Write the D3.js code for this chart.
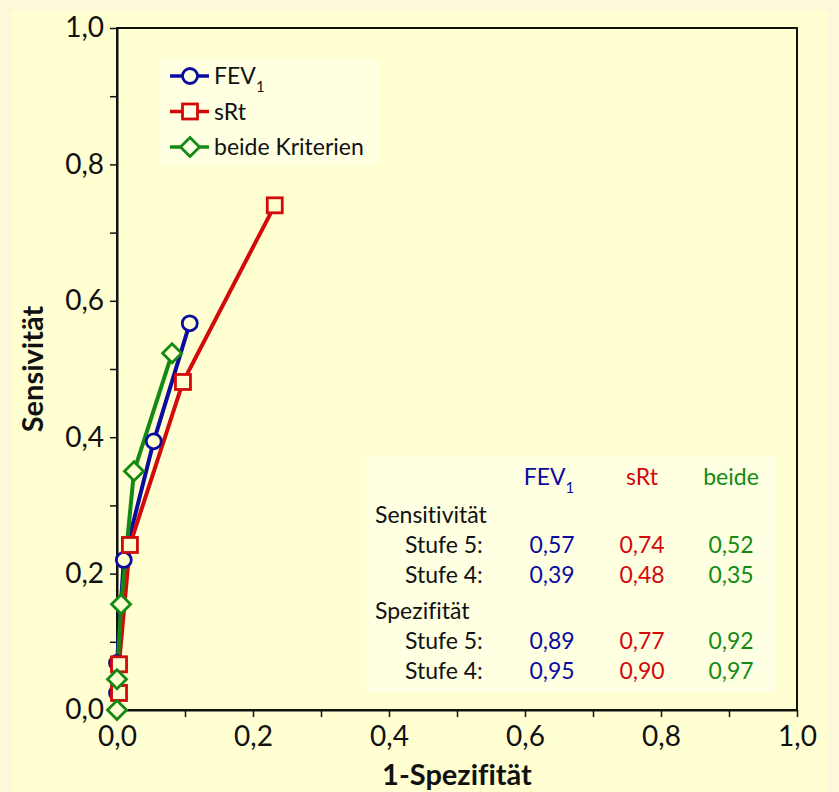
<!DOCTYPE html>
<html>
<head>
<meta charset="utf-8">
<script src="https://cdn.jsdelivr.net/npm/d3@7"></script>
<style>
  body { margin: 0; background: #fdf8da; }
  svg { display: block; font-family: Lato, "Open Sans", sans-serif; font-variant-ligatures: none; }
</style>
</head>
<body>
<div id="chart"></div>
<script>
// 1-Spezifität (x) and Sensitivität (y) for each criterion
var fevX = [0, 0, 0.010, 0.054, 0.107];
var fevY = [0.025, 0.069, 0.220, 0.394, 0.567];
var srtX = [0.003, 0.003, 0.019, 0.097, 0.232];
var srtY = [0.025, 0.067, 0.242, 0.481, 0.740];
var beideX = [0, 0, 0.006, 0.025, 0.081];
var beideY = [0, 0.045, 0.155, 0.350, 0.523];

var seriesNames = ['FEV', 'sRt', 'beide Kriterien'];
var seriesColors = ['#0c0ca0', '#d20a0a', '#148a14'];
var seriesShapes = ['circle', 'square', 'diamond'];

var axisTicks = [0, 0.1, 0.2, 0.3, 0.4, 0.5, 0.6, 0.7, 0.8, 0.9, 1.0];
var axisLabels = [0, 0.2, 0.4, 0.6, 0.8, 1.0];

// table in the lower right
var tableHeads = ['FEV', 'sRt', 'beide'];
var tableRowLabels = ['Stufe 5:', 'Stufe 4:'];
var sensFev = ['0,57', '0,39'];
var sensSrt = ['0,74', '0,48'];
var sensBeide = ['0,52', '0,35'];
var spezFev = ['0,89', '0,95'];
var spezSrt = ['0,77', '0,90'];
var spezBeide = ['0,92', '0,97'];

var width = 839,
    height = 792,
    margin = {left: 117, right: 42, top: 28, bottom: 82};

var plotBg = '#ffffd2';

var svg = d3.select('#chart')
  .append('svg')
  .attr('width', width)
  .attr('height', height);

svg.append('rect')
  .attr('x', 0).attr('y', 0)
  .attr('width', width).attr('height', height)
  .attr('fill', '#fdf8da');

svg.append('rect')
  .attr('x', 12).attr('y', 11)
  .attr('width', 816).attr('height', height - 11)
  .attr('fill', plotBg);

var x = d3.scaleLinear().domain([0, 1]).range([margin.left, width - margin.right]);
var y = d3.scaleLinear().domain([0, 1]).range([height - margin.bottom, margin.top]);

var comma = function (v) { return d3.format('.1f')(v).replace('.', ','); };
var labelFmt = function (v) {
  return axisLabels.some(function (a) { return Math.abs(a - v) < 1e-9; }) ? comma(v) : '';
};

// frame
svg.append('rect')
  .attr('x', x(0)).attr('y', y(1))
  .attr('width', x(1) - x(0)).attr('height', y(0) - y(1))
  .attr('fill', 'none')
  .attr('stroke', '#111')
  .attr('stroke-width', 2);

var xAxis = svg.append('g')
  .attr('transform', 'translate(0,' + y(0) + ')')
  .call(d3.axisBottom(x).tickValues(axisTicks).tickFormat(labelFmt)
    .tickSize(7).tickSizeOuter(0).tickPadding(9));

var yAxis = svg.append('g')
  .attr('transform', 'translate(' + x(0) + ',0)')
  .call(d3.axisLeft(y).tickValues(axisTicks).tickFormat(labelFmt)
    .tickSize(7).tickSizeOuter(0).tickPadding(6));

[xAxis, yAxis].forEach(function (a) {
  a.select('.domain').attr('stroke', '#111').attr('stroke-width', 2);
  a.selectAll('.tick line').attr('stroke', '#111').attr('stroke-width', 1.5);
  a.selectAll('.tick text')
    .attr('fill', '#111')
    .style('font-size', '28px')
    .style('font-family', 'Lato, sans-serif');
});

svg.append('text')
  .attr('x', (x(0) + x(1)) / 2)
  .attr('y', 785)
  .attr('text-anchor', 'middle')
  .attr('fill', '#111')
  .style('font-size', '29px')
  .style('font-weight', 'bold')
  .text('1-Spezifität');

svg.append('text')
  .attr('transform', 'translate(43,' + ((y(0) + y(1)) / 2) + ') rotate(-90)')
  .attr('text-anchor', 'middle')
  .attr('fill', '#111')
  .style('font-size', '29px')
  .style('font-weight', 'bold')
  .text('Sensivität');

// markers
function marker(sel, shape, color) {
  if (shape === 'circle') {
    sel.append('circle').attr('r', 7.5);
  } else if (shape === 'square') {
    sel.append('rect').attr('x', -7.5).attr('y', -7.5).attr('width', 15).attr('height', 15);
  } else {
    sel.append('path').attr('d', 'M0,-9.5L9.5,0L0,9.5L-9.5,0Z');
  }
  sel.selectAll('circle,rect,path')
    .attr('fill', plotBg)
    .attr('stroke', color)
    .attr('stroke-width', 2.8);
}

var series = [
  {xs: fevX, ys: fevY},
  {xs: srtX, ys: srtY},
  {xs: beideX, ys: beideY}
];

var line = d3.line()
  .x(function (d) { return x(d[0]); })
  .y(function (d) { return y(d[1]); });

series.forEach(function (s, i) {
  var pts = s.xs.map(function (v, j) { return [v, s.ys[j]]; });
  svg.append('path')
    .datum(pts)
    .attr('d', line)
    .attr('fill', 'none')
    .attr('stroke', seriesColors[i])
    .attr('stroke-width', 4);
});

series.forEach(function (s, i) {
  var pts = s.xs.map(function (v, j) { return [v, s.ys[j]]; });
  svg.selectAll('.m' + i).data(pts)
    .enter().append('g')
    .attr('class', 'm' + i)
    .attr('transform', function (d) { return 'translate(' + x(d[0]) + ',' + y(d[1]) + ')'; })
    .each(function () { marker(d3.select(this), seriesShapes[i], seriesColors[i]); });
});

// legend
var legend = svg.append('g');
legend.append('rect')
  .attr('x', 160).attr('y', 59)
  .attr('width', 220).attr('height', 106)
  .attr('fill', '#ffffe2');

seriesNames.forEach(function (name, i) {
  var ly = 76 + i * 35.5;
  var g = legend.append('g');
  g.append('line')
    .attr('x1', 170).attr('x2', 209)
    .attr('y1', ly).attr('y2', ly)
    .attr('stroke', seriesColors[i])
    .attr('stroke-width', 3.5);
  var m = g.append('g').attr('transform', 'translate(190,' + ly + ')');
  marker(m, seriesShapes[i], seriesColors[i]);
  m.selectAll('circle,rect,path').attr('fill', '#ffffe2');
  var t = g.append('text')
    .attr('x', 214).attr('y', ly + 8)
    .attr('fill', '#111')
    .style('font-size', '23px')
    .text(name);
  if (i === 0) {
    t.append('tspan').attr('dy', 8).style('font-size', '15px').text('1');
  }
});

// table
var table = svg.append('g');
table.append('rect')
  .attr('x', 367).attr('y', 456)
  .attr('width', 408).attr('height', 236)
  .attr('fill', '#ffffe2');

var colX = [552, 642, 731];
var fs = '23px';

tableHeads.forEach(function (h, i) {
  var t = table.append('text')
    .attr('x', colX[i] + (i === 0 ? -3 : 0)).attr('y', 485)
    .attr('text-anchor', 'middle')
    .attr('fill', seriesColors[i])
    .style('font-size', fs)
    .text(h);
  if (i === 0) {
    t.append('tspan').attr('dy', 8).style('font-size', '15px').text('1');
  }
});

function tableBlock(title, ty, cols) {
  table.append('text')
    .attr('x', 375).attr('y', ty)
    .attr('fill', '#111')
    .style('font-size', fs)
    .text(title);
  tableRowLabels.forEach(function (lab, r) {
    var ry = ty + 29.5 + r * 30.5;
    table.append('text')
      .attr('x', 405).attr('y', ry)
      .attr('fill', '#111')
      .style('font-size', fs)
      .text(lab);
    cols.forEach(function (c, k) {
      table.append('text')
        .attr('x', colX[k]).attr('y', ry)
        .attr('text-anchor', 'middle')
        .attr('fill', seriesColors[k])
        .style('font-size', fs)
        .text(c[r]);
    });
  });
}

tableBlock('Sensitivität', 523, [sensFev, sensSrt, sensBeide]);
tableBlock('Spezifität', 619, [spezFev, spezSrt, spezBeide]);
</script>
</body>
</html>
